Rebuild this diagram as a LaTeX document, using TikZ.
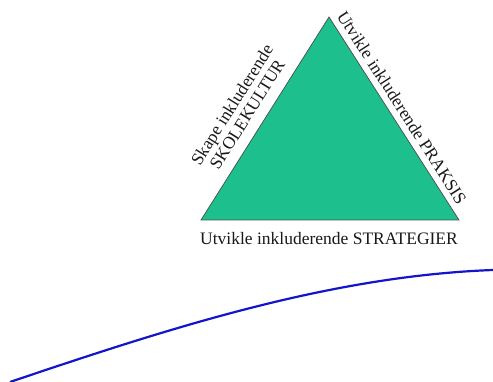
\documentclass[tikz,border=0pt]{standalone}
\usepackage{fontspec}
\setmainfont{Liberation Serif}
\definecolor{trigreen}{RGB}{29,191,141}
\definecolor{curveblue}{RGB}{20,20,205}
\begin{document}
\begin{tikzpicture}[x=1pt,y=-1pt,
  lbl/.style={font=\fontsize{17.5}{18}\selectfont, inner sep=0pt, align=center, text=black!90},
  tri/.style={fill=trigreen, draw=black!70, line width=0.7pt, line join=miter},
  curve/.style={draw=curveblue, line width=2.2pt}]
\useasboundingbox (0,0) rectangle (493,382);
\coordinate (T) at (329,17);
\coordinate (BL) at (201,220);
\coordinate (BR) at (459,220);
\path[tri] (T) -- (BR) -- (BL) -- cycle;
\node[lbl, rotate=57.8] (left) at (239.5,109.5) {Skape inkluderende\\SKOLEKULTUR};
\node[lbl, rotate=-57.4] (right) at (402,107.5) {Utvikle inkluderende PRAKSIS};
\node[lbl, anchor=base] (bottom) at (329,245) {Utvikle inkluderende STRATEGIER};
\coordinate (c0) at (10,382);
\coordinate (c1) at (493,270);
\draw[curve] (c0) .. controls (170,328) and (330,276) .. (c1);
\end{tikzpicture}
\end{document}
